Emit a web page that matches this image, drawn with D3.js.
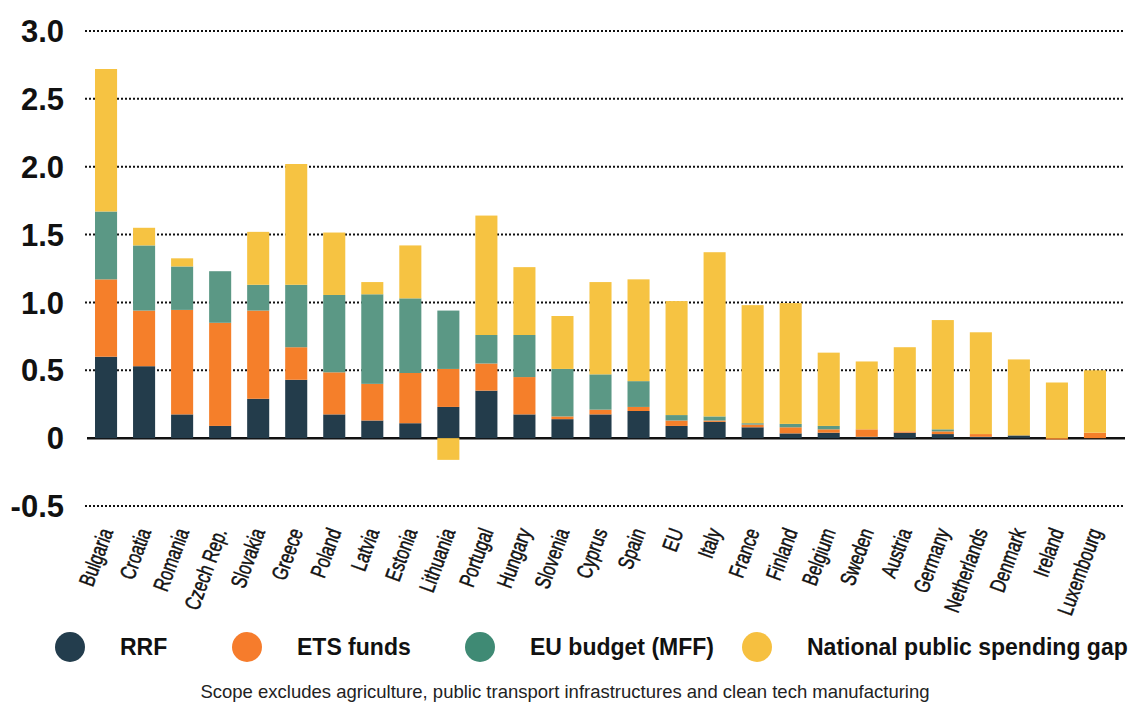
<!DOCTYPE html>
<html>
<head>
<meta charset="utf-8">
<script src="https://cdn.jsdelivr.net/npm/d3@7"></script>
<style>
  body { margin: 0; background: #fff; }
  svg { display: block; font-family: "Liberation Sans", Arial, sans-serif; }
</style>
</head>
<body>
<div id="viz"></div>
<script>
//-------Data-----------
var countries = ["Bulgaria", "Croatia", "Romania", "Czech Rep.", "Slovakia", "Greece", "Poland", "Latvia",
  "Estonia", "Lithuania", "Portugal", "Hungary", "Slovenia", "Cyprus", "Spain", "EU", "Italy", "France",
  "Finland", "Belgium", "Sweden", "Austria", "Germany", "Netherlands", "Denmark", "Ireland", "Luxembourg"];

var rrf = [0.60, 0.53, 0.175, 0.09, 0.29, 0.43, 0.175, 0.13, 0.11, 0.23, 0.35, 0.175, 0.14, 0.175, 0.20,
  0.09, 0.12, 0.08, 0.035, 0.04, 0.01, 0.04, 0.03, 0.01, 0.02, 0, 0];
var ets = [0.57, 0.41, 0.77, 0.76, 0.65, 0.24, 0.31, 0.27, 0.37, 0.28, 0.20, 0.275, 0.02, 0.035, 0.03,
  0.04, 0.01, 0.02, 0.045, 0.025, 0.055, 0.01, 0.02, 0.02, 0, -0.01, 0.04];
var mff = [0.50, 0.48, 0.32, 0.38, 0.19, 0.46, 0.57, 0.66, 0.55, 0.43, 0.21, 0.31, 0.35, 0.26, 0.19,
  0.04, 0.03, 0.01, 0.025, 0.025, 0, 0, 0.015, 0, 0, 0, 0];
var gap = [1.05, 0.13, 0.06, 0, 0.39, 0.89, 0.46, 0.09, 0.39, -0.16, 0.88, 0.50, 0.39, 0.68, 0.75,
  0.84, 1.21, 0.87, 0.89, 0.54, 0.50, 0.62, 0.805, 0.75, 0.56, 0.41, 0.46];

var seriesKeys = ["rrf", "ets", "mff", "gap"];
var seriesNames = ["RRF", "ETS funds", "EU budget (MFF)", "National public spending gap"];
var barColors = ["#233c4b", "#f57f2a", "#5b9885", "#f6c342"];
var legendColors = ["#233d4d", "#f67c2c", "#3f8a74", "#f6c040"];

var yTicks = [3.0, 2.5, 2.0, 1.5, 1.0, 0.5, 0, -0.5];
var yTickLabels = ["3.0", "2.5", "2.0", "1.5", "1.0", "0.5", "0", "-0.5"];

var footnote = "Scope excludes agriculture, public transport infrastructures and clean tech manufacturing";

var data = countries.map(function(c, i) {
  return {country: c, rrf: rrf[i], ets: ets[i], mff: mff[i], gap: gap[i]};
});

//---------------------------------
var width = 1129,
    height = 711;

var svg = d3.select("#viz")
  .append("svg")
    .attr("width", width)
    .attr("height", height);

//------Scales-----------
var xScale = d3.scaleBand()
    .domain(countries)
    .range([76, 1125])
    .paddingInner(0.42)
    .paddingOuter(0.5);

var yScale = d3.scaleLinear()
    .domain([-0.5, 3])
    .range([506, 31]);

var colorScale = d3.scaleOrdinal().domain(seriesKeys).range(barColors);

//------Grid & y labels-----------
var grid = svg.append("g").attr("id", "grid");

grid.selectAll("line")
  .data(yTicks.filter(function(d) { return d !== 0; }))
  .enter()
  .append("line")
    .attr("x1", 85)
    .attr("x2", 1125)
    .attr("y1", function(d) { return yScale(d); })
    .attr("y2", function(d) { return yScale(d); })
    .style("stroke", "#111")
    .style("stroke-width", 2)
    .style("stroke-dasharray", "2,2");

svg.append("g")
  .attr("id", "y-labels")
  .selectAll("text")
  .data(yTicks)
  .enter()
  .append("text")
    .attr("x", 64)
    .attr("y", function(d) { return yScale(d); })
    .attr("dy", "0.36em")
    .attr("text-anchor", "end")
    .style("font-size", "31px")
    .style("font-weight", "bold")
    .style("fill", "#111")
    .text(function(d, i) { return yTickLabels[i]; });

// zero line
svg.append("line")
    .attr("x1", 87)
    .attr("x2", 1125)
    .attr("y1", yScale(0))
    .attr("y2", yScale(0))
    .style("stroke", "#111")
    .style("stroke-width", 2.5);

//------Stacked bars--------------------
var stacked = d3.stack()
    .keys(seriesKeys)
    .offset(d3.stackOffsetDiverging)(data);

svg.append("g")
  .attr("id", "bars")
  .selectAll("g")
  .data(stacked)
  .enter()
  .append("g")
    .style("fill", function(d) { return colorScale(d.key); })
  .selectAll("rect")
  .data(function(d) { return d; })
  .enter()
  .append("rect")
    .attr("x", function(d) { return xScale(d.data.country); })
    .attr("width", xScale.bandwidth())
    .attr("y", function(d) { return yScale(Math.max(d[0], d[1])); })
    .attr("height", function(d) { return Math.abs(yScale(d[0]) - yScale(d[1])); });

//------X labels (condensed look via horizontal scale)--------------------
svg.append("g")
  .attr("id", "x-labels")
  .selectAll("text")
  .data(countries)
  .enter()
  .append("text")
    .attr("transform", function(d) {
      return "translate(" + (xScale(d) + xScale.bandwidth() / 2) + ",529) rotate(-70) scale(0.74,1)";
    })
    .attr("text-anchor", "end")
    .attr("dy", "0.35em")
    .style("font-size", "22px")
    .style("fill", "#111")
    .style("stroke", "#111")
    .style("stroke-width", 0.5)
    .text(function(d) { return d; });

//------Legend--------------------
var legendX = [70, 247, 480, 757];
var legend = svg.append("g").attr("id", "legend")
  .selectAll("g")
  .data(seriesNames)
  .enter()
  .append("g")
    .attr("transform", function(d, i) { return "translate(" + legendX[i] + ",647)"; });

legend.append("circle")
    .attr("r", 15)
    .style("fill", function(d, i) { return legendColors[i]; });

legend.append("text")
    .attr("x", 50)
    .attr("y", 8)
    .style("font-size", "23px")
    .style("font-weight", "bold")
    .style("fill", "#111")
    .text(function(d) { return d; });

//------Footnote--------------------
svg.append("text")
    .attr("x", 565)
    .attr("y", 698)
    .attr("text-anchor", "middle")
    .style("font-size", "18.5px")
    .style("fill", "#222")
    .text(footnote);
</script>
</body>
</html>
